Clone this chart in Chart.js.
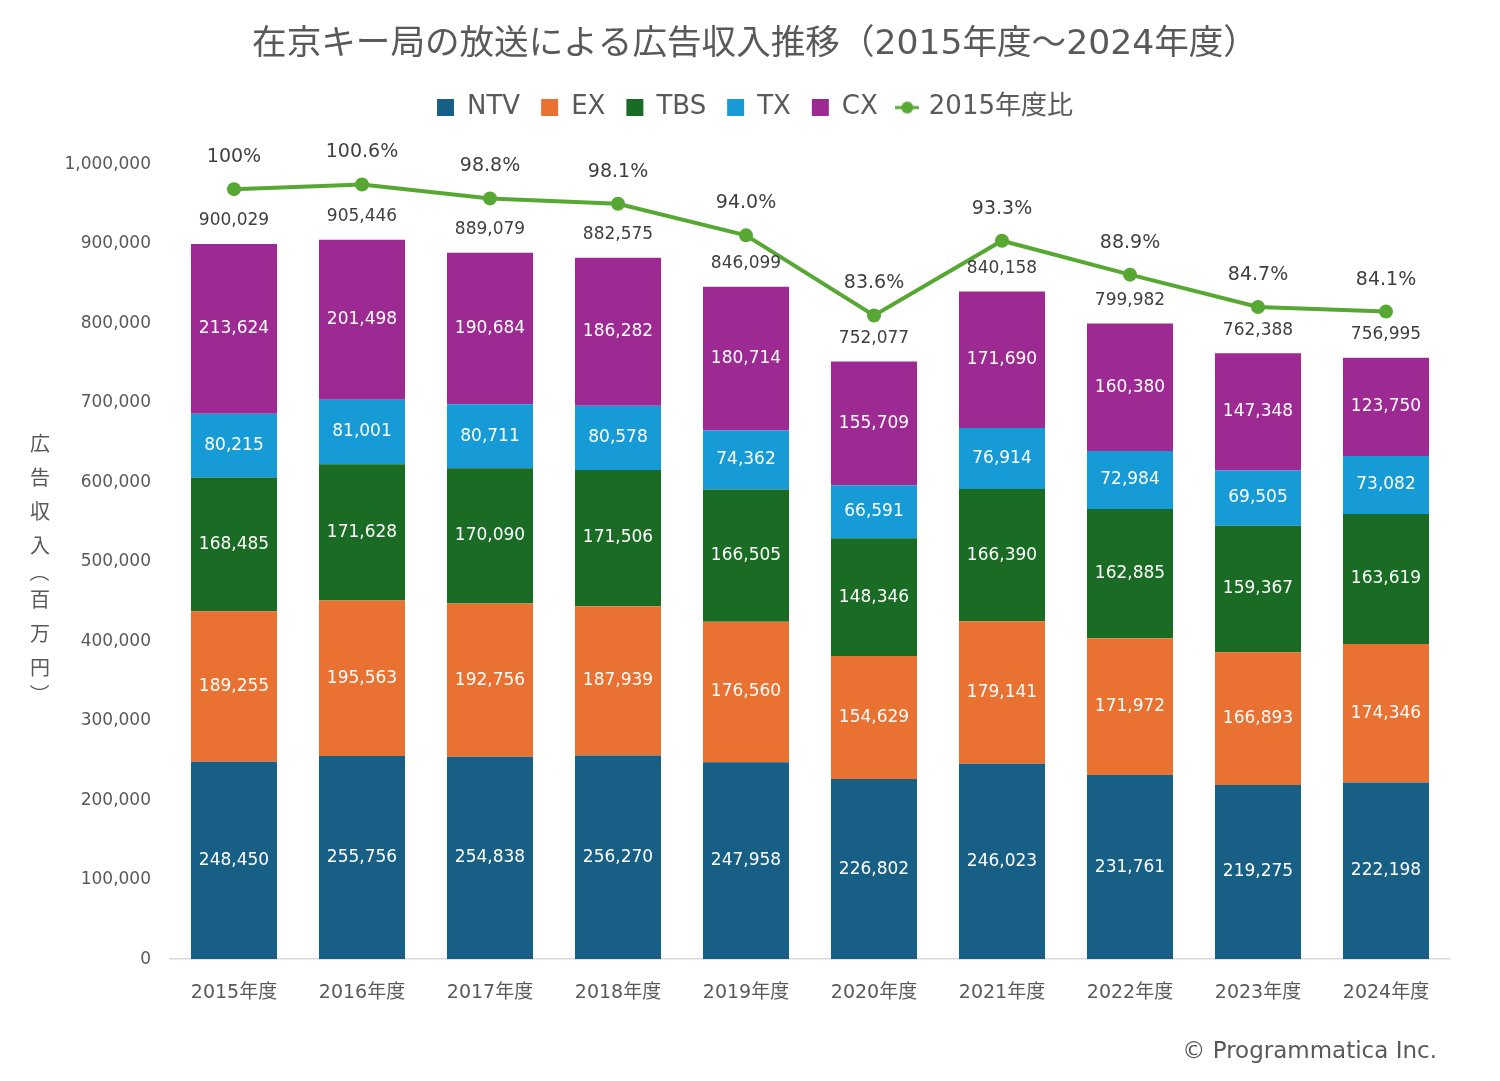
<!DOCTYPE html>
<html>
<head>
<meta charset="utf-8">
<script src="https://cdn.jsdelivr.net/npm/chart.js@4.4.1/dist/chart.umd.min.js"></script>
<style>
html, body { margin: 0; padding: 0; background: #ffffff; }
#wrap { position: relative; width: 1500px; height: 1081px; }
#copy { position: absolute; right: 63px; top: 1035px; font: 23px "DejaVu Sans", sans-serif; color: #595959; line-height: 30px; white-space: nowrap; }
</style>
</head>
<body>
<div id="wrap">
  <canvas id="c" width="1500" height="1081" style="width:1500px;height:1081px"></canvas>
  <div id="copy">© Programmatica Inc.</div>
</div>
<script>
// ---- data ----
const categories = ['2015年度','2016年度','2017年度','2018年度','2019年度','2020年度','2021年度','2022年度','2023年度','2024年度'];
const ntv = [248450, 255756, 254838, 256270, 247958, 226802, 246023, 231761, 219275, 222198];
const ex  = [189255, 195563, 192756, 187939, 176560, 154629, 179141, 171972, 166893, 174346];
const tbs = [168485, 171628, 170090, 171506, 166505, 148346, 166390, 162885, 159367, 163619];
const tx  = [80215, 81001, 80711, 80578, 74362, 66591, 76914, 72984, 69505, 73082];
const cx  = [213624, 201498, 190684, 186282, 180714, 155709, 171690, 160380, 147348, 123750];
const totals = [900029, 905446, 889079, 882575, 846099, 752077, 840158, 799982, 762388, 756995];
const ratio = [100, 100.6, 98.8, 98.1, 94.0, 83.6, 93.3, 88.9, 84.7, 84.1];
const seriesNames = ['NTV', 'EX', 'TBS', 'TX', 'CX'];
const lineName = '2015年度比';
const titleText = '在京キー局の放送による広告収入推移（2015年度～2024年度）';
const yTitleText = '広告収入（百万円）';
const yMin = 0, yMax = 1000000, yStep = 100000;

// ---- styles ----
const FONT = '"DejaVu Sans", "Noto Sans CJK JP", sans-serif';
const barColors = ['#185f86', '#e97131', '#1a6b24', '#169bd6', '#9d2a92'];
const lineColor = '#56a832';
const textColor = '#595959';

const fmt = v => v.toLocaleString('en-US');
const pct = v => (v === 100 ? '100' : v.toFixed(1)) + '%';

const barData = [ntv, ex, tbs, tx, cx];
const lineIndex = barData.length;

const lineIcon = document.createElement('canvas');
lineIcon.width = 24; lineIcon.height = 14;
(function () {
  const c = lineIcon.getContext('2d');
  c.strokeStyle = lineColor; c.lineWidth = 3;
  c.beginPath(); c.moveTo(0, 7); c.lineTo(24, 7); c.stroke();
  c.fillStyle = lineColor;
  c.beginPath(); c.arc(12, 7, 6, 0, Math.PI * 2); c.fill();
})();

const datasets = barData.map((d, i) => ({
  type: 'bar',
  label: seriesNames[i],
  data: d,
  backgroundColor: barColors[i],
  borderWidth: 0,
  yAxisID: 'y',
  stack: 'total',
  order: 1,
  categoryPercentage: 1,
  barPercentage: 0.672
}));
datasets.push({
  type: 'line',
  label: lineName,
  data: ratio,
  yAxisID: 'y2',
  borderColor: lineColor,
  backgroundColor: lineColor,
  borderWidth: 4,
  pointRadius: 7,
  pointBackgroundColor: lineColor,
  pointBorderWidth: 0,
  tension: 0,
  order: 0
});

const labelPlugin = {
  id: 'valueLabels',
  afterDatasetsDraw(chart) {
    const ctx = chart.ctx;
    ctx.save();
    ctx.textAlign = 'center';
    ctx.textBaseline = 'middle';
    ctx.font = '17px ' + FONT;
    ctx.fillStyle = '#ffffff';
    barData.forEach((d, i) => {
      const meta = chart.getDatasetMeta(i);
      meta.data.forEach((el, j) => {
        ctx.fillText(fmt(d[j]), el.x, (el.y + el.base) / 2);
      });
    });
    const topMeta = chart.getDatasetMeta(barData.length - 1);
    ctx.fillStyle = '#404040';
    topMeta.data.forEach((el, j) => ctx.fillText(fmt(totals[j]), el.x, el.y - 23));
    const lm = chart.getDatasetMeta(lineIndex);
    ctx.font = '19px ' + FONT;
    lm.data.forEach((el, j) => ctx.fillText(pct(ratio[j]), el.x, el.y - 32));
    ctx.restore();
  }
};

const yTitlePlugin = {
  id: 'verticalTitle',
  afterDraw(chart) {
    const ctx = chart.ctx;
    ctx.save();
    ctx.font = '20px "Noto Sans CJK JP", sans-serif';
    ctx.fillStyle = textColor;
    ctx.textAlign = 'center';
    ctx.textBaseline = 'middle';
    const x = 40;
    let y = 443;
    const chars = Array.from(yTitleText);
    const isParen = ch => ch === '（' || ch === '）';
    chars.forEach((ch, i) => {
      if (i > 0) y += (isParen(chars[i - 1]) ? 10 : 17) + (isParen(ch) ? 10 : 17);
      if (isParen(ch)) {
        ctx.save(); ctx.translate(x, y); ctx.rotate(Math.PI / 2); ctx.fillText(ch, 0, 0); ctx.restore();
      } else {
        ctx.fillText(ch, x, y);
      }
    });
    ctx.restore();
  }
};

new Chart(document.getElementById('c'), {
  data: { labels: categories, datasets },
  options: {
    responsive: false,
    animation: false,
    events: [],
    layout: { padding: { top: 0, left: 60, right: 50, bottom: 55 } },
    plugins: {
      tooltip: { enabled: false },
      title: {
        display: true,
        text: titleText,
        color: textColor,
        font: { family: FONT, size: 34.6, weight: 'normal' },
        padding: { top: 24, bottom: 8 }
      },
      legend: {
        display: true,
        position: 'top',
        labels: {
          usePointStyle: true,
          boxWidth: 17,
          boxHeight: 17,
          padding: 21,
          color: textColor,
          font: { family: FONT, size: 26 },
          sort: (a, b) => a.datasetIndex - b.datasetIndex,
          generateLabels(chart) {
            const items = Chart.defaults.plugins.legend.labels.generateLabels(chart);
            items.forEach(it => {
              if (it.datasetIndex === lineIndex) {
                it.pointStyle = lineIcon;
              } else {
                it.pointStyle = 'rect';
                it.lineWidth = 0;
              }
            });
            return items;
          }
        }
      }
    },
    scales: {
      x: {
        stacked: true,
        grid: { display: false, drawTicks: false },
        border: { display: true, color: '#d9d9d9', width: 1.5 },
        ticks: { color: textColor, font: { family: FONT, size: 19 }, padding: 22, maxRotation: 0, autoSkip: false }
      },
      xTop: {
        type: 'category',
        position: 'top',
        grid: { display: false, drawTicks: false },
        border: { display: false },
        ticks: { display: false },
        afterFit(s) { s.height = 34; }
      },
      y: {
        stacked: true,
        min: yMin,
        max: yMax,
        grid: { display: false, drawTicks: false },
        border: { display: false },
        ticks: { stepSize: yStep, color: textColor, font: { family: FONT, size: 17 }, padding: 19, callback: v => fmt(v) },
        afterFit(s) { s.width = 110; }
      },
      y2: {
        display: false,
        position: 'right',
        min: 0,
        max: 103.2
      }
    }
  },
  plugins: [labelPlugin, yTitlePlugin]
});
</script>
</body>
</html>
